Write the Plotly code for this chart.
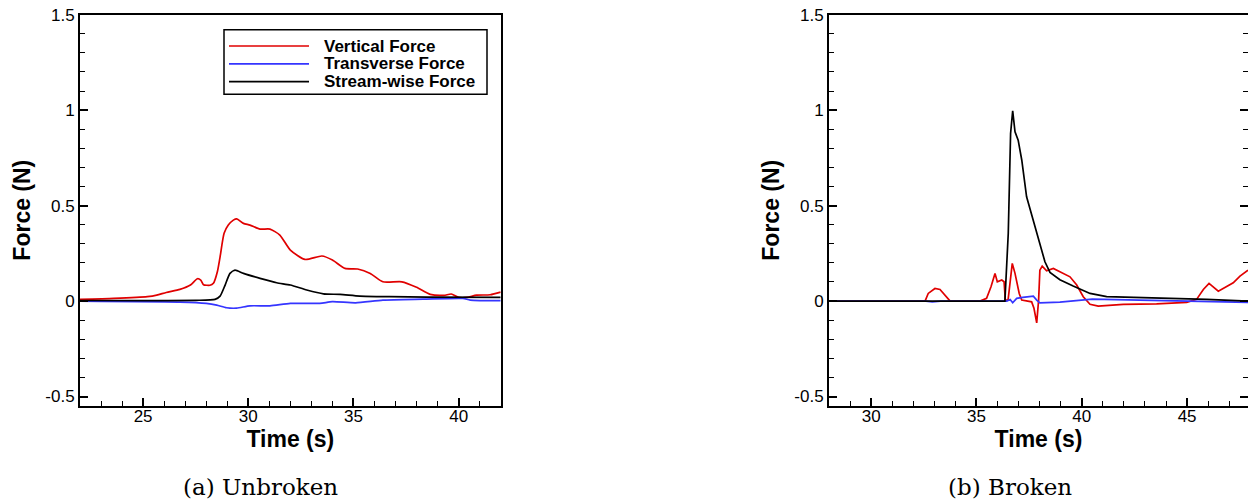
import plotly.graph_objects as go

# ---------------- data: (a) Unbroken ----------------
t_a_vert = [22, 23.6, 25.2, 25.65, 26.1, 26.75, 27.25, 27.58, 27.74, 27.87, 28.18, 28.34, 28.53, 28.66,
            28.85, 29.05, 29.29, 29.45, 29.77, 30.08, 30.56, 31.03, 31.5, 32.0, 32.7, 33.5, 34.0, 34.6,
            35.2, 35.8, 36.4, 37.3, 38.0, 38.65, 39.3, 39.65, 40.0, 40.4, 40.85, 41.5, 42.0]
f_a_vert = [0.009, 0.014, 0.023, 0.031, 0.045, 0.061, 0.084, 0.117, 0.11, 0.086, 0.083, 0.093, 0.154, 0.232,
            0.355, 0.398, 0.424, 0.431, 0.407, 0.398, 0.377, 0.377, 0.346, 0.267, 0.218, 0.236, 0.215, 0.171,
            0.168, 0.145, 0.101, 0.101, 0.072, 0.035, 0.030, 0.037, 0.019, 0.019, 0.031, 0.033, 0.047]

t_a_trans = [22, 26.75, 28.0, 28.5, 28.97, 29.45, 30.08, 31.03, 32.0, 33.4, 34.0, 35.1, 36.4, 38.3,
             40.2, 40.55, 42]
f_a_trans = [0.0, -0.005, -0.012, -0.021, -0.035, -0.037, -0.025, -0.025, -0.012, -0.012, -0.003, -0.009,
             0.005, 0.010, 0.014, 0.005, 0.002]

t_a_stream = [22, 25, 27.5, 28.42, 28.66, 28.9, 29.13, 29.37, 29.77, 30.56, 31.35, 32.0, 32.78, 33.57,
              34.36, 35.3, 36.7, 38.5, 42]
f_a_stream = [0.003, 0.002, 0.004, 0.009, 0.026, 0.084, 0.145, 0.162, 0.145, 0.119, 0.096, 0.084, 0.058,
              0.038, 0.035, 0.026, 0.023, 0.021, 0.019]

# ---------------- data: (b) Broken ----------------
t_b_vert = [28, 32.56, 32.71, 33.03, 33.27, 33.59, 33.75, 35.17, 35.48, 35.69, 35.88, 35.99, 36.2, 36.31,
            36.37, 36.5, 36.7, 36.83, 37.03, 37.15, 37.39, 37.62, 37.73, 37.86, 37.95, 38.01, 38.12, 38.33,
            38.65, 38.96, 39.44, 39.76, 40.07, 40.39, 40.78, 41.97, 43.55, 44.98, 45.45, 45.77, 46.04,
            46.48, 47.19, 47.51, 47.89]
f_b_vert = [0, 0, 0.04, 0.066, 0.061, 0.023, 0, 0, 0.014, 0.075, 0.145, 0.101, 0.11, 0.101,
            0.005, 0.005, 0.197, 0.145, 0.04, 0.005, 0, -0.004, -0.038, -0.114, 0.005, 0.162, 0.183, 0.159,
            0.171, 0.154, 0.127, 0.084, 0.023, -0.017, -0.026, -0.017, -0.015, -0.007, 0.009, 0.061, 0.093,
            0.052, 0.096, 0.131, 0.162]

t_b_trans = [28, 32.6, 32.9, 33.3, 36.44, 36.6, 36.72, 36.91, 37.2, 37.7, 37.86, 38.01, 38.96, 40.07,
             40.5, 42.75, 45.93, 47.89]
f_b_trans = [0, 0, -0.004, 0, 0, 0.008, -0.009, 0.014, 0.019, 0.026, 0.005, -0.009, -0.005, 0.005,
             0.010, 0.005, 0, -0.007]

t_b_stream = [28, 36.35, 36.51, 36.62, 36.72, 36.83, 36.98, 37.15, 37.38, 37.62, 37.78, 38.01, 38.25,
              38.49, 38.96, 39.59, 40.39, 41.18, 44.34, 45.93, 47.89]
f_b_stream = [0, 0, 0.355, 0.878, 0.997, 0.887, 0.843, 0.739, 0.546, 0.45, 0.398, 0.302, 0.206,
              0.15, 0.112, 0.079, 0.04, 0.023, 0.014, 0.009, 0.0]

series_names = ["Vertical Force", "Transverse Force", "Stream-wise Force"]
series_colors = ["#e00000", "#3535ff", "#000000"]

y_tick_vals = [-0.5, 0, 0.5, 1, 1.5]
y_tick_text = ["-0.5", "0", "0.5", "1", "1.5"]
y_minor_vals = [-0.5, -0.4, -0.3, -0.2, -0.1, 0, 0.1, 0.2, 0.3, 0.4, 0.5, 0.6, 0.7, 0.8, 0.9,
                1.0, 1.1, 1.2, 1.3, 1.4, 1.5]
x_minor_vals = list(range(22, 49))
captions = ["(a) Unbroken", "(b) Broken"]

W, H = 1248, 503
FONT = "Liberation Sans, Arial, sans-serif"

fig = go.Figure()

panel_a = [(t_a_vert, f_a_vert), (t_a_trans, f_a_trans), (t_a_stream, f_a_stream)]
panel_b = [(t_b_vert, f_b_vert), (t_b_trans, f_b_trans), (t_b_stream, f_b_stream)]

for (t, f), name, col in zip(panel_a, series_names, series_colors):
    fig.add_trace(go.Scatter(x=t, y=f, mode="lines", name=name, xaxis="x", yaxis="y",
                             line=dict(color=col, width=1.7, shape="spline", smoothing=0.6),
                             showlegend=False))
for (t, f), name, col in zip(panel_b, series_names, series_colors):
    fig.add_trace(go.Scatter(x=t, y=f, mode="lines", name=name, xaxis="x2", yaxis="y2",
                             line=dict(color=col, width=1.7), showlegend=False))

y_dom = [(H - 405.7) / H, (H - 14.7) / H]


def xax(domain, rng, anchor):
    return dict(domain=domain, range=rng, anchor=anchor, showgrid=False, zeroline=False,
                automargin=False,
                showline=True, linecolor="black", linewidth=2, mirror=True,
                ticks="inside", ticklen=8, tickwidth=2, tickcolor="black", dtick=5, tick0=0,
                ticklabelstandoff=-6,
                minor=dict(ticks="inside", ticklen=5, tickwidth=1.2, tickcolor="black",
                           tickmode="array", tickvals=x_minor_vals, showgrid=False),
                tickfont=dict(family=FONT, size=17, color="black"),
                title=dict(text="<b>Time (s)</b>", font=dict(family=FONT, size=23, color="black"),
                           standoff=6))


def yax(domain, anchor, mirror):
    return dict(domain=domain, range=[-0.548, 1.5], anchor=anchor, showgrid=False, zeroline=False,
                automargin=False,
                showline=True, linecolor="black", linewidth=2, mirror=mirror,
                ticks="inside", ticklen=8, tickwidth=2, tickcolor="black",
                tickmode="array", tickvals=y_tick_vals, ticktext=y_tick_text,
                minor=dict(ticks="inside", ticklen=5, tickwidth=1.2, tickcolor="black",
                           tickmode="array", tickvals=y_minor_vals, showgrid=False),
                tickfont=dict(family=FONT, size=17, color="black"),
                title=dict(text="<b>Force (N)</b>", font=dict(family=FONT, size=23, color="black"),
                           standoff=8))


fig.update_layout(
    width=W, height=H, margin=dict(l=0, r=0, t=0, b=0, autoexpand=False),
    paper_bgcolor="white", plot_bgcolor="white",
    xaxis=xax([80 / W, 500.7 / W], [22, 42], "y"),
    yaxis=yax(y_dom, "x", True),
    xaxis2=xax([829 / W, 1.0], [28, 47.89], "y2"),
    yaxis2=yax(y_dom, "x2", "ticks"),
)

# manual legend (panel a)
shapes = [dict(type="rect", xref="paper", yref="paper", x0=224 / W, x1=487 / W,
               y0=1 - 94.3 / H, y1=1 - 29.7 / H, line=dict(color="black", width=1.5),
               fillcolor="white", layer="above")]
annos = []
for i, (name, col) in enumerate(zip(series_names, series_colors)):
    yy = 46 + i * 17.8
    shapes.append(dict(type="line", xref="paper", yref="paper", x0=229 / W, x1=309 / W,
                       y0=1 - yy / H, y1=1 - yy / H, line=dict(color=col, width=1.7), layer="above"))
    annos.append(dict(text="<b>%s</b>" % name, xref="paper", yref="paper", x=322 / W, y=1 - yy / H,
                      xanchor="left", yanchor="middle", showarrow=False,
                      font=dict(family=FONT, size=17, color="black")))

for cap, cx in zip(captions, [260, 1010]):
    annos.append(dict(text=cap, xref="paper", yref="paper", x=cx / W, y=1 - 487 / H,
                      xanchor="center", yanchor="middle", showarrow=False,
                      font=dict(family="DejaVu Serif, serif", size=23, color="black")))

fig.update_layout(shapes=shapes, annotations=annos)

fig.write_html("out.html")
